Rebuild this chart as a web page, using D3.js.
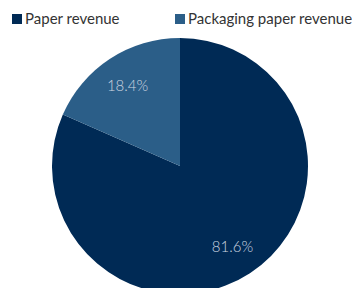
<!DOCTYPE html>
<html>
<head>
<meta charset="utf-8">
<script src="https://cdn.jsdelivr.net/npm/d3@7"></script>
<style>
  body { margin: 0; background: #fff; }
  text { font-family: "Source Sans Pro", Lato, "Open Sans", sans-serif; }
</style>
</head>
<body>
<div id="chart"></div>
<script>
var categories = ['Paper revenue', 'Packaging paper revenue'];
var values = [81.6, 18.4];
var colors = ['#002a55', '#2b5e88'];

var width = 352, height = 288;
var cx = 180, cy = 166, radius = 128;

var svg = d3.select('#chart')
  .append('svg')
    .attr('width', width)
    .attr('height', height);

var data = categories.map(function(c, i){ return { name : c, value : values[i] }; });

var pie = d3.pie().sort(null).value(function(d){ return d.value; });
var arc = d3.arc().innerRadius(0).outerRadius(radius);
var labelArc = d3.arc().innerRadius(96).outerRadius(96);

var color = d3.scaleOrdinal().domain(categories).range(colors);

var g = svg.append('g').attr('transform', 'translate(' + cx + ',' + cy + ')');

// Slices
g.selectAll('.slice')
  .data(pie(data))
  .enter()
    .append('path')
      .attr('class', 'slice')
      .attr('d', arc)
      .attr('fill', function(d){ return color(d.data.name); });

// Slice labels
g.selectAll('.slice-label')
  .data(pie(data))
  .enter()
    .append('text')
      .attr('class', 'slice-label')
      .attr('transform', function(d){ return 'translate(' + labelArc.centroid(d) + ')'; })
      .attr('text-anchor', 'middle')
      .attr('dy', '0.35em')
      .attr('font-size', 15)
      .attr('font-weight', 300)
      .attr('fill', '#cdd5e0')
      .text(function(d){ return d.data.value.toFixed(1) + '%'; });

// Legend
var legendX = [12, 175];
var legend = svg.selectAll('.legend')
  .data(categories)
  .enter()
    .append('g')
      .attr('class', 'legend')
      .attr('transform', function(d, i){ return 'translate(' + legendX[i] + ',14)'; });

legend.append('rect')
  .attr('width', 10)
  .attr('height', 10)
  .attr('fill', function(d){ return color(d); });

legend.append('text')
  .attr('x', 13)
  .attr('y', 5)
  .attr('dy', '0.35em')
  .attr('font-size', 15)
  .attr('fill', '#333')
  .text(function(d){ return d; });
</script>
</body>
</html>
